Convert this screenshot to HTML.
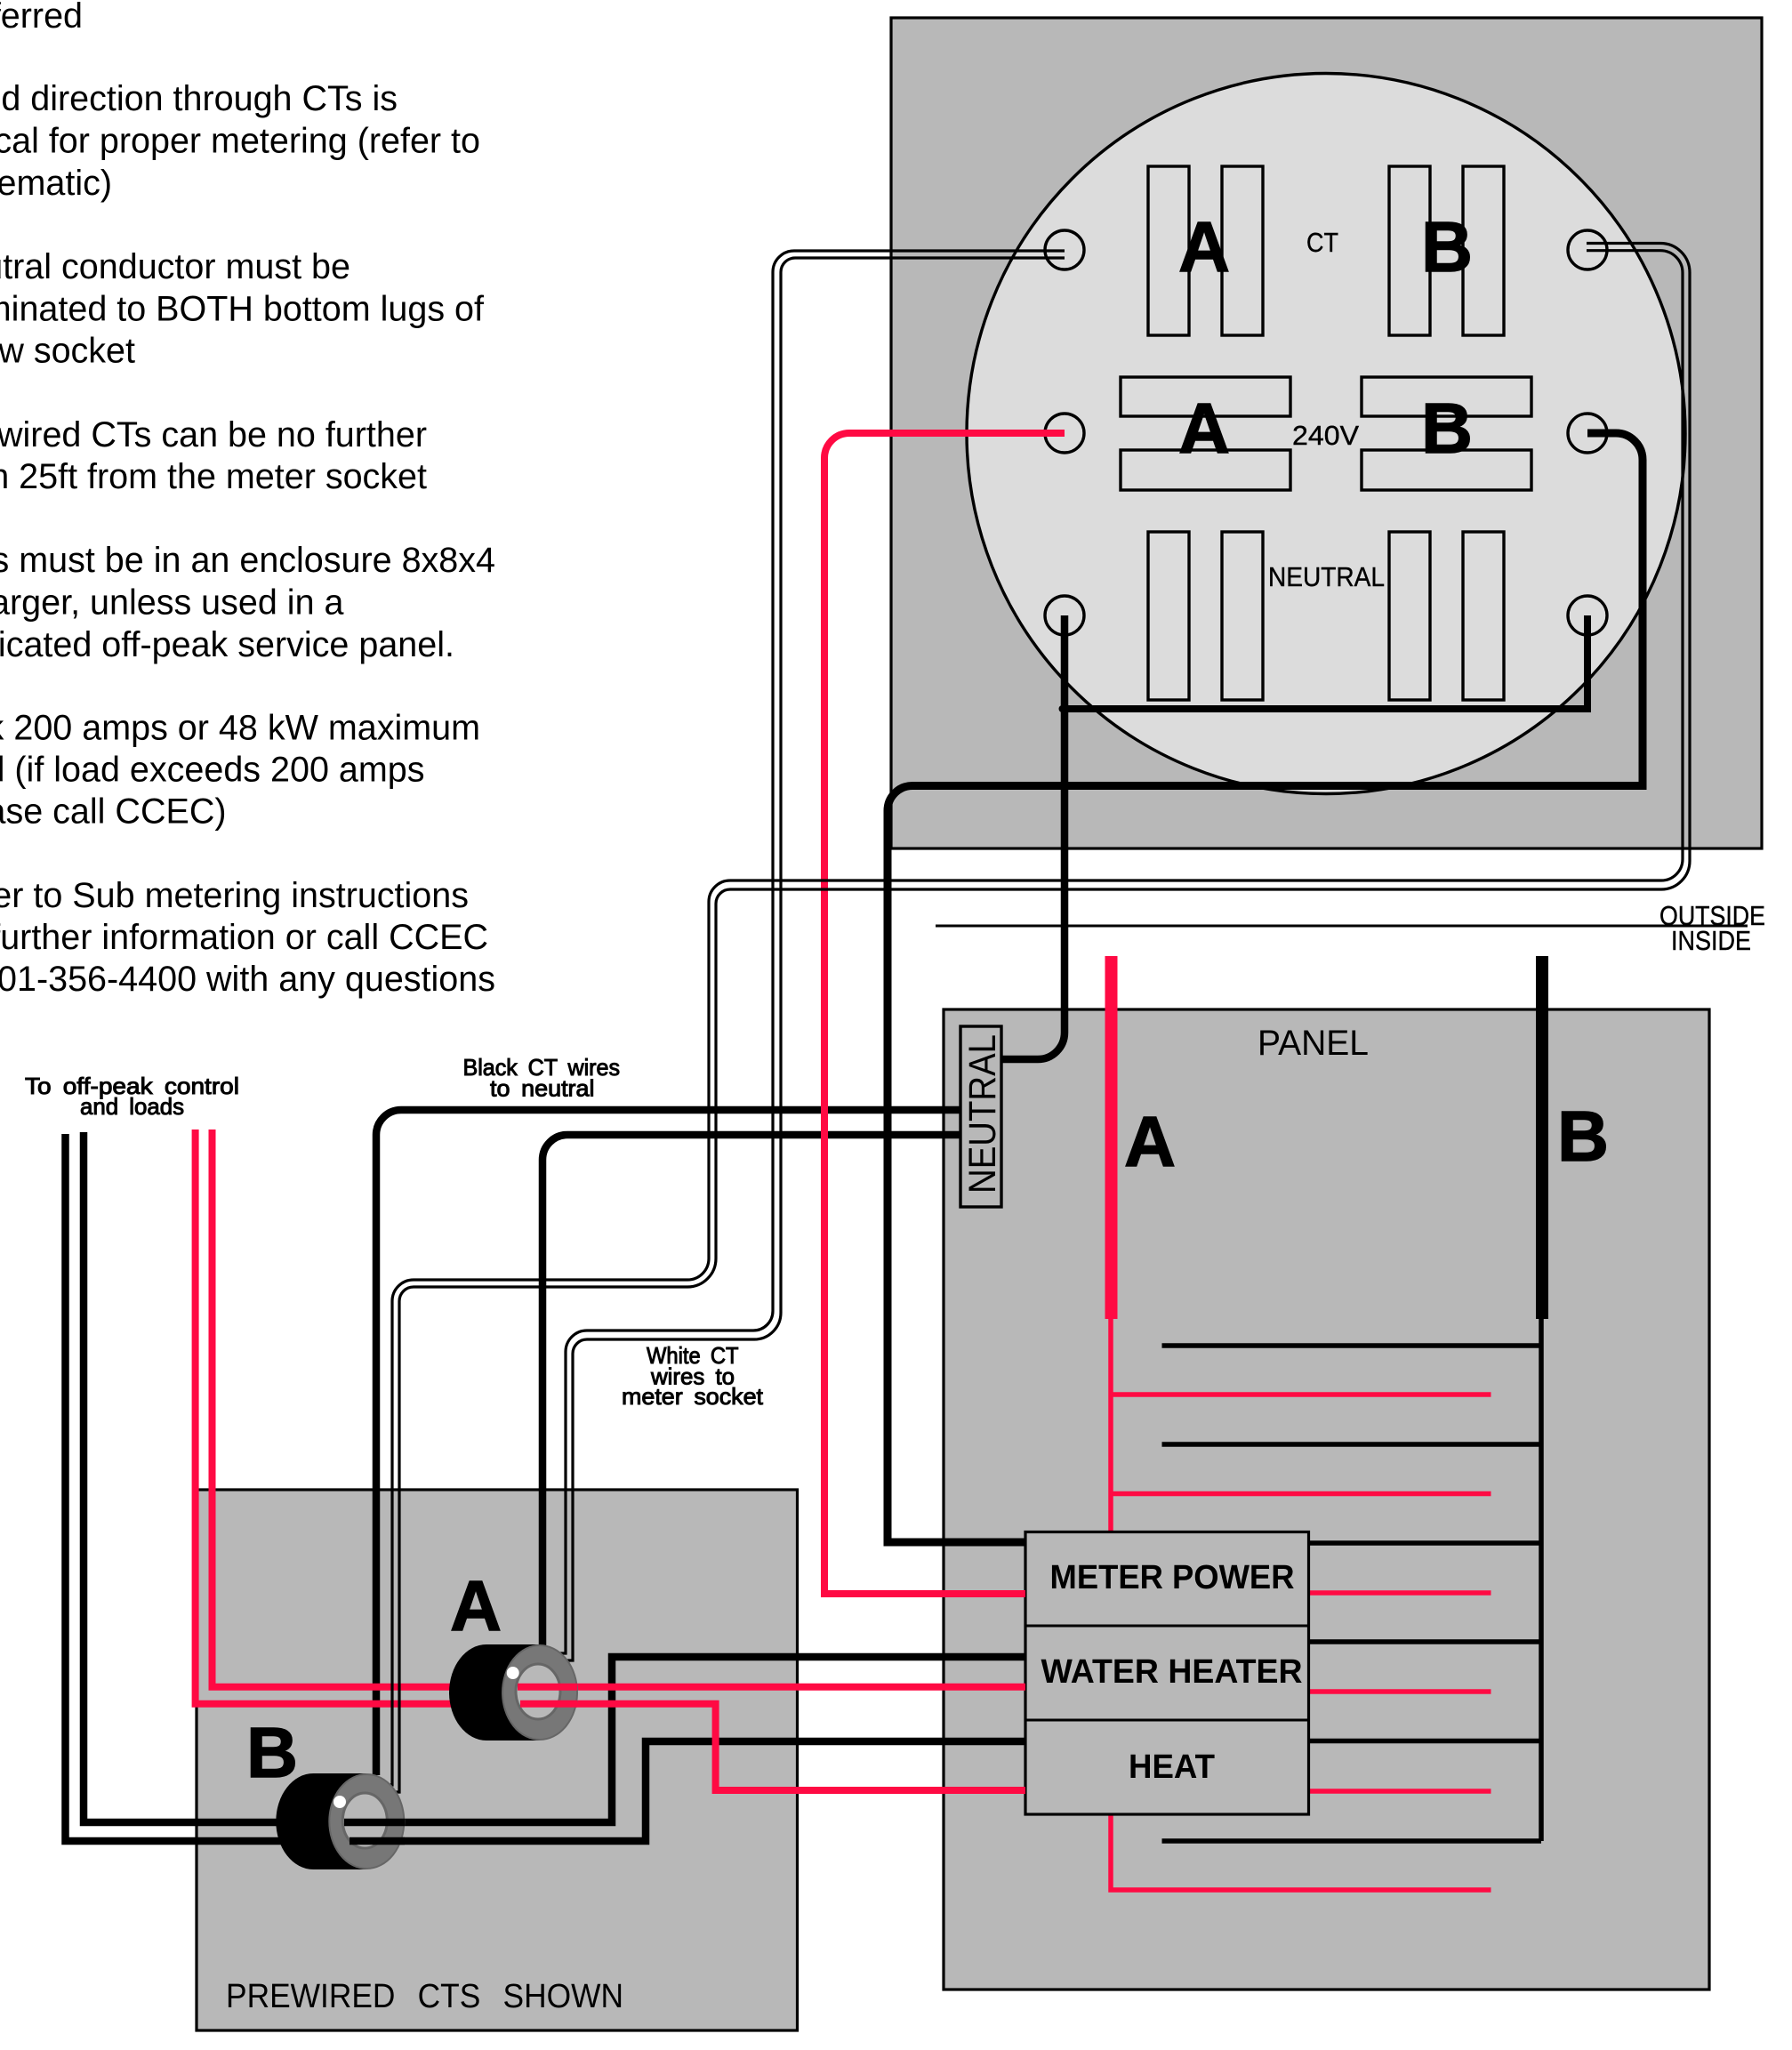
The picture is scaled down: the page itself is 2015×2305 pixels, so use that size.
<!DOCTYPE html>
<html><head><meta charset="utf-8"><title>CT meter wiring diagram</title>
<style>
html,body{margin:0;padding:0;background:#fff;width:2015px;height:2305px;overflow:hidden}
svg{display:block}
text{font-family:"Liberation Sans",sans-serif;fill:#000}
.note{font-size:39.5px;text-anchor:end}
.big{font-size:80px;font-weight:bold;text-anchor:middle;stroke:#000;stroke-width:1.5px}
.cad{font-size:31px;stroke:#000;stroke-width:.4px}
.lab{font-size:26px;stroke:#000;stroke-width:1px;word-spacing:5px}
.brk{font-size:38px;font-weight:bold}
.w{fill:none;stroke:#000;stroke-width:8.5}
.r{fill:none;stroke:#ff0a43;stroke-width:8}
.t{fill:none;stroke:#000;stroke-width:3.2}
.th{fill:none;stroke:#000;stroke-width:5.5}
.tr{fill:none;stroke:#ff0a43;stroke-width:5.5}
.bx{fill:#b8b8b8;stroke:#000;stroke-width:3.2}
.bl{fill:none;stroke:#000;stroke-width:3.4}
</style></head><body>
<svg xmlns="http://www.w3.org/2000/svg" width="2015" height="2305" viewBox="0 0 2015 2305">
<rect width="2015" height="2305" fill="#fff"/>

<!-- notes -->
<text class="note" x="93" y="31">ferred</text>
<text class="note" x="447" y="124">d direction through CTs is</text>
<text class="note" x="540" y="171.5">cal for proper metering (refer to</text>
<text class="note" x="126" y="219">ematic)</text>
<text class="note" x="394" y="313">utral conductor must be</text>
<text class="note" x="544" y="360.5">minated to BOTH bottom lugs of</text>
<text class="note" x="152" y="407.5">w socket</text>
<text class="note" x="480" y="502">wired CTs can be no further</text>
<text class="note" x="480" y="549">n 25ft from the meter socket</text>
<text class="note" x="557" y="643">s must be in an enclosure 8x8x4</text>
<text class="note" x="386.5" y="690.5">arger, unless used in a</text>
<text class="note" x="511" y="738">icated off-peak service panel.</text>
<text class="note" x="540" y="831.5">k 200 amps or 48 kW maximum</text>
<text class="note" x="477.5" y="878.5">d (if load exceeds 200 amps</text>
<text class="note" x="254.5" y="925.5">ase call CCEC)</text>
<text class="note" x="527" y="1020">er to Sub metering instructions</text>
<text class="note" x="549" y="1067">further information or call CCEC</text>
<text class="note" x="557" y="1114">01-356-4400 with any questions</text>

<!-- enclosures -->
<rect class="bx" x="1002" y="20" width="979" height="934"/>
<ellipse cx="1491" cy="487.5" rx="404" ry="405" fill="#dcdcdc" stroke="#000" stroke-width="3.4"/>
<rect class="bx" x="1061" y="1135" width="861" height="1102"/>
<rect class="bx" x="221" y="1675" width="675.5" height="608"/>

<!-- meter socket blades -->
<g class="bl">
<rect x="1291" y="187" width="46" height="190"/><rect x="1374" y="187" width="46" height="190"/>
<rect x="1562" y="187" width="46" height="190"/><rect x="1645" y="187" width="46" height="190"/>
<rect x="1291" y="598" width="46" height="189"/><rect x="1374" y="598" width="46" height="189"/>
<rect x="1562" y="598" width="46" height="189"/><rect x="1645" y="598" width="46" height="189"/>
<rect x="1260" y="424" width="191" height="44"/><rect x="1531" y="424" width="191" height="44"/>
<rect x="1260" y="506" width="191" height="45"/><rect x="1531" y="506" width="191" height="45"/>
<circle cx="1197" cy="281" r="22"/><circle cx="1785" cy="281" r="22"/>
<circle cx="1197" cy="487" r="22"/><circle cx="1785" cy="487" r="22"/>
<circle cx="1197" cy="692" r="22"/><circle cx="1785" cy="692" r="22"/>
</g>
<text class="big" x="1354" y="305">A</text>
<text class="big" x="1627" y="305">B</text>
<text class="big" x="1354" y="509">A</text>
<text class="big" x="1627" y="509">B</text>
<text class="cad" x="1469" y="283" textLength="36" lengthAdjust="spacingAndGlyphs">CT</text>
<text class="cad" x="1453" y="500" textLength="75" lengthAdjust="spacingAndGlyphs">240V</text>
<text class="cad" x="1426" y="659" textLength="131" lengthAdjust="spacingAndGlyphs">NEUTRAL</text>

<!-- outside / inside -->
<line x1="1052" y1="1041" x2="1965" y2="1041" stroke="#000" stroke-width="3"/>
<text class="cad" x="1866" y="1040" textLength="119" lengthAdjust="spacingAndGlyphs">OUTSIDE</text>
<text class="cad" x="1879" y="1068" textLength="90" lengthAdjust="spacingAndGlyphs">INSIDE</text>

<!-- panel contents -->
<text x="1414" y="1186" style="font-size:40px" textLength="125" lengthAdjust="spacingAndGlyphs">PANEL</text>
<rect class="bl" x="1080" y="1154" width="46" height="203"/>
<text transform="translate(1119 1342) rotate(-90)" style="font-size:43px" textLength="179" lengthAdjust="spacingAndGlyphs">NEUTRAL</text>
<text class="big" x="1293" y="1311">A</text>
<text class="big" x="1780" y="1305">B</text>

<!-- bus & branch lines -->
<line x1="1249.5" y1="1075" x2="1249.5" y2="1483" stroke="#ff0a43" stroke-width="14"/>
<line x1="1734" y1="1075" x2="1734" y2="1483" stroke="#000" stroke-width="14"/>
<path class="tr" d="M1249 1483V1722M1249 1568H1676.5M1249 1679.5H1676.5M1471 1791H1676.5M1471 1902H1676.5M1471 2014H1676.5M1249 2040V2125H1676.5"/>
<path class="th" d="M1733 1483V2070M1306.5 1513H1733M1306.5 1624H1733M1471 1735H1733M1471 1846H1733M1471 1957.5H1733M1306.5 2070H1733"/>

<!-- breaker block -->
<rect class="bx" x="1153" y="1722.5" width="318.5" height="317.5"/>
<line x1="1153" y1="1828" x2="1471.5" y2="1828" stroke="#000" stroke-width="3"/>
<line x1="1153" y1="1934" x2="1471.5" y2="1934" stroke="#000" stroke-width="3"/>
<text class="brk" x="1180.5" y="1786" textLength="275" lengthAdjust="spacingAndGlyphs">METER POWER</text>
<text class="brk" x="1170.5" y="1892" textLength="294" lengthAdjust="spacingAndGlyphs">WATER HEATER</text>
<text class="brk" x="1269" y="1999" textLength="97" lengthAdjust="spacingAndGlyphs">HEAT</text>

<!-- black thick wires -->
<path class="w" d="M423 1996V1276A28 28 0 0 1 451 1248H1080"/>
<path class="w" d="M610 1852V1304A28 28 0 0 1 638 1276H1080"/>
<path class="w" d="M1197 692V1161A30 30 0 0 1 1167 1191H1126"/>
<path d="M1194.500 797H1785V692" fill="none" stroke="#000" stroke-width="8" stroke-linejoin="miter"/>
<circle cx="1194.500" cy="797" r="4" fill="#000"/>
<path class="w" style="stroke-width:9" d="M1785 487H1817A30 30 0 0 1 1847 517V883.500H1026A28 28 0 0 0 998 911.500V1734H1153"/>
<path class="w" d="M94 1273V2049H688V1863H1153"/>
<path class="w" d="M73.500 1275V2070H726V1958H1153"/>

<!-- red wires -->
<path class="r" d="M1197 487H955A28 28 0 0 0 927 515V1792H1153"/>
<path class="r" d="M238.500 1270V1896.700H1153"/>
<path class="r" d="M219.600 1270V1915.700H804.600V2013H1153"/>

<!-- white CT wire pairs -->
<path class="t" d="M1197 282H893A24 24 0 0 0 869 306V1474A22 22 0 0 1 847 1496H660A24 24 0 0 0 636 1520V1859H625"/>
<path class="t" d="M1197 290H894A16 16 0 0 0 878 306V1476A30 30 0 0 1 848 1506H660A16 16 0 0 0 644 1522V1867H632"/>
<path class="t" d="M1784 273.500H1867A33 33 0 0 1 1900 306.500V968A32 32 0 0 1 1868 1000H821A16 16 0 0 0 805 1016V1415A32 32 0 0 1 773 1447H465A16 16 0 0 0 449 1463V2015H438"/>
<path class="t" d="M1784 281.700H1867A25 25 0 0 1 1892 306.700V966A24 24 0 0 1 1868 990H821A24 24 0 0 0 797 1014V1415A24 24 0 0 1 773 1439H465A24 24 0 0 0 441 1463V2007H430"/>

<!-- CT A -->
<path d="M607 1849H547A42 54 0 0 0 547 1957H607Z" fill="#000"/>
<ellipse cx="607" cy="1903" rx="42" ry="53" fill="#777" stroke="#666" stroke-width="2"/>
<ellipse cx="605" cy="1902" rx="25" ry="31" fill="#b8b8b8" stroke="#666" stroke-width="3"/>
<line x1="582" y1="1896.700" x2="649" y2="1896.700" stroke="#ff0a43" stroke-width="8"/>
<line x1="585" y1="1915.700" x2="649" y2="1915.700" stroke="#ff0a43" stroke-width="8"/>
<circle cx="576.700" cy="1881" r="7" fill="#fff"/>
<text class="big" x="535" y="1833">A</text>

<!-- CT B -->
<path d="M412.300 1994H352.300A42 54 0 0 0 352.300 2102H412.300Z" fill="#000"/>
<ellipse cx="412.300" cy="2048" rx="42" ry="53" fill="#777" stroke="#666" stroke-width="2"/>
<ellipse cx="410.300" cy="2047" rx="25" ry="31" fill="#b8b8b8" stroke="#666" stroke-width="3"/>
<line x1="387" y1="2049" x2="455" y2="2049" stroke="#000" stroke-width="8.500"/>
<line x1="393" y1="2070" x2="455" y2="2070" stroke="#000" stroke-width="8.500"/>
<circle cx="382" cy="2026" r="7" fill="#fff"/>
<text class="big" x="306" y="1998">B</text>

<!-- labels -->
<text class="lab" x="28" y="1230" textLength="241" lengthAdjust="spacingAndGlyphs">To off-peak control</text>
<text class="lab" x="90" y="1253" textLength="117" lengthAdjust="spacingAndGlyphs">and loads</text>
<text class="lab" x="520.500" y="1209" textLength="176.500" lengthAdjust="spacingAndGlyphs">Black CT wires</text>
<text class="lab" x="551" y="1232.500" textLength="117.500" lengthAdjust="spacingAndGlyphs">to neutral</text>
<text class="lab" x="727" y="1533" textLength="103.500" lengthAdjust="spacingAndGlyphs">White CT</text>
<text class="lab" x="732" y="1556.500" textLength="94" lengthAdjust="spacingAndGlyphs">wires to</text>
<text class="lab" x="699" y="1579" textLength="159" lengthAdjust="spacingAndGlyphs">meter socket</text>
<text x="254" y="2257" style="font-size:38px;word-spacing:3px" textLength="447" lengthAdjust="spacingAndGlyphs" xml:space="preserve">PREWIRED  CTS  SHOWN</text>
</svg>
</body></html>
